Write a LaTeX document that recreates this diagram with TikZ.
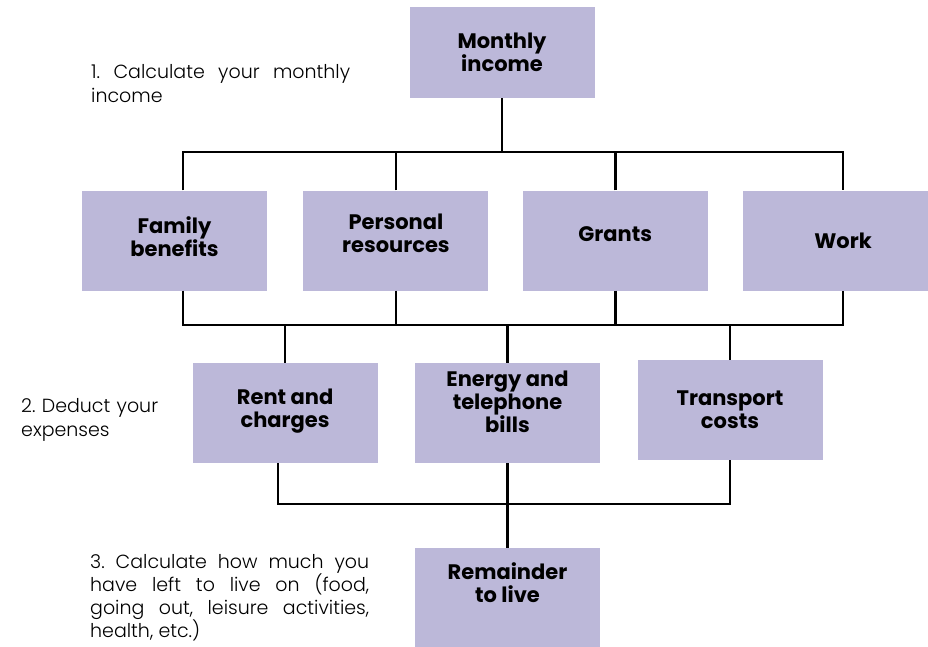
\documentclass[tikz,border=0pt]{standalone}
\usepackage{fontspec}
\setmainfont{Poppins}
\newfontfamily\lightfont{Poppins Light}
\frenchspacing
\usepackage{tikz}
\usetikzlibrary{positioning}
\definecolor{boxlilac}{RGB}{188,184,217}
\tikzset{x=1pt,y=-1pt}
\tikzset{budget box/.style={fill=boxlilac,draw=none,minimum width=185pt,minimum height=100pt,align=center,inner sep=0pt,font=\bfseries\fontsize{21}{23}\selectfont}}
\tikzset{hint text/.style={anchor=north west,inner sep=0pt,align=justify,font=\lightfont\fontsize{19}{24}\selectfont}}
\tikzset{link/.style={draw,line width=2.5pt}}

\begin{document}
\begin{tikzpicture}
	\useasboundingbox (0,0) rectangle (928,646);
	\clip (0,0) rectangle (928,646);
	% income sources
	\node[budget box,minimum height=91pt] (inc) at (502,52.5) {Monthly\\income};
	\node[budget box,text depth=8pt] (fam) at (174.5,240.5) {Family\\benefits};
	\node[budget box,text depth=14pt] (pers) [right=36pt of fam] {Personal\\resources};
	\node[budget box,text depth=12pt] (grant) [right=34pt of pers] {Grants};
	\node[budget box,minimum width=200pt] (work) at (843,240.5) {Work};
	% expenses
	\node[budget box,text depth=22pt] (energy) at (507.5,413) {Energy and\\telephone\\bills};
	\node[budget box,text depth=10pt] (rent) [left=37pt of energy] {Rent and\\charges};
	\node[budget box] (trans) at (730,410) {Transport\\costs};
	\node[budget box,text depth=30pt] (rest) at (507.5,598) {Remainder\\to live};
	% steps
	\node[hint text,text width=259pt] (note1) at (91,64) {1. Calculate your monthly\linebreak income};
	\node[hint text,text width=150pt,align=left] (note2) at (21,398) {2. Deduct your\\expenses};
	\node[hint text,text width=279pt,font=\lightfont\fontsize{19}{23}\selectfont] (note3) at (90,554) {3. Calculate how much you\linebreak have left to live on (food,\linebreak going out, leisure activities,\linebreak health, etc.)};
	% connectors
	\coordinate (topbar) at (0,152);
	\coordinate (midbar) at (0,325);
	\coordinate (lowbar) at (0,504);
	\draw[link] (inc.south) -- (inc.south |- topbar);
	\draw[link] ([xshift=8.5pt]fam.north) |- (work.north |- topbar) -- (work.north);
	\draw[link] (pers.north) -- (pers.north |- topbar);
	\draw[link] (grant.north) -- (grant.north |- topbar);
	\draw[link] ([xshift=8.5pt]fam.south) |- (work.south |- midbar) -- (work.south);
	\draw[link] (pers.south) -- (pers.south |- midbar);
	\draw[link] (grant.south) -- (grant.south |- midbar);
	\draw[link] (rent.north) -- (rent.north |- midbar);
	\draw[link] (energy.north) -- (energy.north |- midbar);
	\draw[link] (trans.north) -- (trans.north |- midbar);
	\draw[link] ([xshift=-7pt]rent.south) |- (trans.south |- lowbar) -- (trans.south);
	\draw[link] (energy.south) -- (rest.north);
\end{tikzpicture}
\end{document}
